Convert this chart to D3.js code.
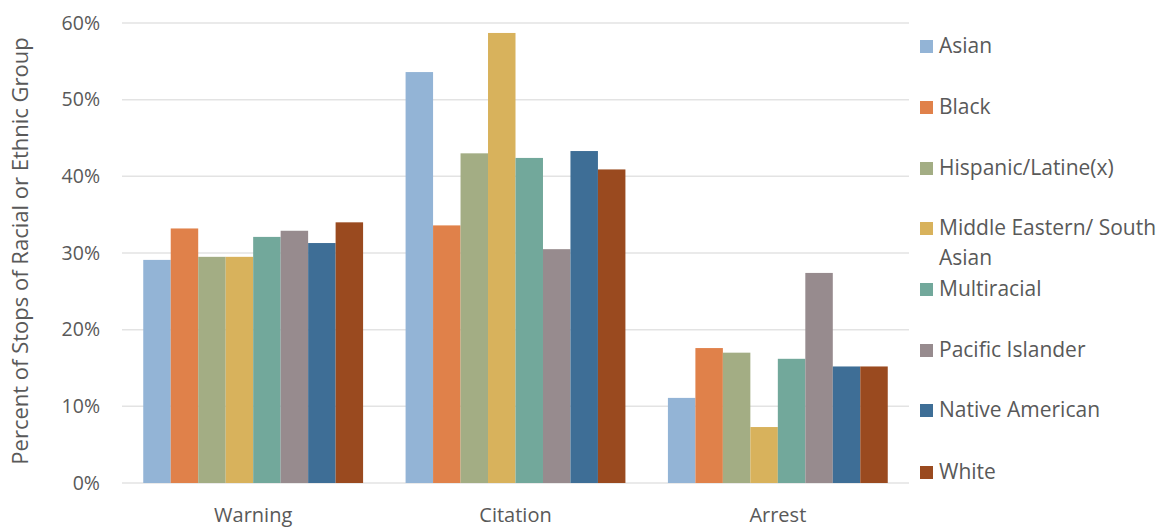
<!DOCTYPE html>
<html>
<head>
<meta charset="utf-8">
<script src="https://cdn.jsdelivr.net/npm/d3@7"></script>
<style>
  html, body { margin: 0; padding: 0; background: #fff; }
  svg { display: block; font-family: "Open Sans", sans-serif; }
</style>
</head>
<body>
<svg id="chart" width="1170" height="529"></svg>
<script>
const categories = ["Warning", "Citation", "Arrest"];
const seriesNames = ["Asian", "Black", "Hispanic/Latine(x)", "Middle Eastern/ South Asian", "Multiracial", "Pacific Islander", "Native American", "White"];
const asian        = [29.1, 53.6, 11.1];
const black        = [33.2, 33.6, 17.6];
const hispanic     = [29.5, 43.0, 17.0];
const middleEast   = [29.5, 58.7, 7.3];
const multiracial  = [32.1, 42.4, 16.2];
const pacific      = [32.9, 30.5, 27.4];
const nativeAm     = [31.3, 43.3, 15.2];
const white        = [34.0, 40.9, 15.2];
const yTicks = [0, 10, 20, 30, 40, 50, 60];
const colors = ["#93b4d6", "#e0814a", "#a3ad84", "#d8b25c", "#72a89b", "#978b8e", "#3e6e96", "#9a4a1f"];

const seriesValues = [asian, black, hispanic, middleEast, multiracial, pacific, nativeAm, white];

const svg = d3.select("#chart");
const plotLeft = 122, plotRight = 909, plotTop = 23, plotBottom = 483;

const x0 = d3.scaleBand().domain(categories).range([plotLeft, plotRight]).paddingInner(0.162).paddingOuter(0.081);
const x1 = d3.scaleBand().domain(seriesNames).range([0, x0.bandwidth()]).padding(0);
const y = d3.scaleLinear().domain([0, 60]).range([plotBottom, plotTop]);

// gridlines
svg.append("g").selectAll("line").data(yTicks).join("line")
  .attr("x1", plotLeft).attr("x2", plotRight)
  .attr("y1", d => y(d)).attr("y2", d => y(d))
  .attr("stroke", "#e3e3e3").attr("stroke-width", 1.5);

// y tick labels
svg.append("g").selectAll("text").data(yTicks).join("text")
  .attr("x", 100).attr("y", d => y(d)).attr("dy", "0.35em")
  .attr("text-anchor", "end").attr("fill", "#595959").attr("font-size", 19.5)
  .text(d => d + "%");

// y axis title
svg.append("text")
  .attr("transform", `translate(20, 251) rotate(-90)`)
  .attr("text-anchor", "middle").attr("dy", "0.35em")
  .attr("fill", "#595959").attr("font-size", 22)
  .text("Percent of Stops of Racial or Ethnic Group");

// bars
const groups = svg.append("g").selectAll("g").data(categories).join("g")
  .attr("transform", d => `translate(${x0(d)},0)`);
groups.selectAll("rect").data((c, ci) => seriesNames.map((s, si) => ({ s, si, v: seriesValues[si][ci] })))
  .join("rect")
  .attr("x", d => x1(d.s)).attr("width", x1.bandwidth())
  .attr("y", d => y(d.v)).attr("height", d => y(0) - y(d.v))
  .attr("fill", d => colors[d.si]);

// x labels
svg.append("g").selectAll("text").data(categories).join("text")
  .attr("x", d => x0(d) + x0.bandwidth() / 2).attr("y", 522)
  .attr("text-anchor", "middle").attr("fill", "#595959").attr("font-size", 20)
  .text(d => d);

// legend
const legendY = [46, 107, 168, 228, 289, 350, 410, 472];
const legend = svg.append("g").selectAll("g").data(seriesNames).join("g")
  .attr("transform", (d, i) => `translate(920, ${legendY[i]})`);
legend.append("rect").attr("x", 0).attr("y", -6).attr("width", 13).attr("height", 13)
  .attr("fill", (d, i) => colors[i]);
legend.append("text").attr("x", 19).attr("y", 0).attr("dy", "0.35em")
  .attr("fill", "#595959").attr("font-size", 21)
  .each(function(d) {
    const t = d3.select(this);
    if (d === "Middle Eastern/ South Asian") {
      t.append("tspan").attr("x", 19).text("Middle Eastern/ South");
      t.append("tspan").attr("x", 19).attr("dy", "1.43em").text("Asian");
    } else {
      t.text(d);
    }
  });
</script>
</body>
</html>
